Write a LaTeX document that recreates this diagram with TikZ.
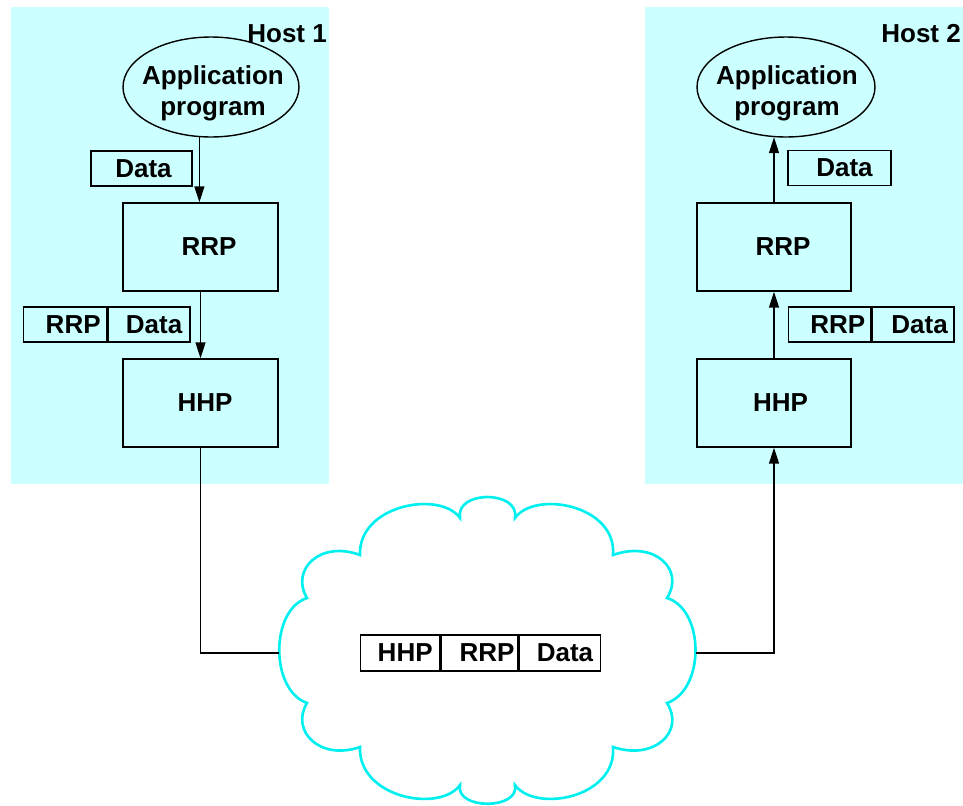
\documentclass[tikz,border=0pt]{standalone}
\usepackage{fontspec}
\setmainfont{Liberation Sans}
\usetikzlibrary{arrows.meta,shapes.geometric}
\definecolor{hostbg}{RGB}{204,255,255}
\definecolor{cloudc}{RGB}{0,240,240}
\begin{document}
\begin{tikzpicture}[x=0.02cm,y=-0.02cm,
  lbl/.style={font=\fontsize{14.8}{17.5}\selectfont\bfseries},
  box/.style={draw, line width=0.8pt, inner sep=0pt, lbl},
  arr/.style={line width=0.8pt, -{Triangle[length=0.32cm,width=0.2cm]}},
  wire/.style={line width=0.8pt}]
\useasboundingbox (0,0) rectangle (963,805);
% host backgrounds
\fill[hostbg] (11,7) rectangle (329,484);
\fill[hostbg] (645,7) rectangle (963,484);
% cloud
\draw[cloudc, line width=1.5pt] (360,555) .. controls (358,505) and (440,490) .. (460,518)
 .. controls (455,490) and (520,490) .. (515,518)
 .. controls (535,490) and (617,505) .. (613,555)
 .. controls (655,540) and (685,570) .. (667,598)
 .. controls (705,610) and (705,690) .. (667,703)
 .. controls (685,731) and (655,761) .. (613,747)
 .. controls (617,798) and (535,813) .. (515,785)
 .. controls (520,810) and (455,810) .. (460,785)
 .. controls (440,813) and (358,798) .. (360,747)
 .. controls (320,761) and (290,731) .. (307,703)
 .. controls (270,690) and (270,610) .. (307,598)
 .. controls (290,570) and (320,540) .. (360,555) -- cycle;
\coordinate (cloudW) at (279,653);
\coordinate (cloudE) at (695.5,653);
% Host 1
\node[draw, ellipse, line width=0.8pt, minimum width=3.52cm, minimum height=2cm, inner sep=0pt] (app1) at (211,87) {};
\node[lbl, align=center, inner sep=0pt] (app1t) at (213,93) {Application\\program};
\node[lbl, anchor=base west, inner sep=0pt] (host1) at (247,42) {Host 1};
\node[box, minimum width=2.02cm, minimum height=0.7cm] (data1) at (141.5,168.5) {\hspace{0.08cm}Data};
\node[box, minimum width=3.1cm, minimum height=1.76cm] (rrp1) at (200.5,247) {\hspace{0.34cm}RRP};
\node[box, minimum width=1.66cm, minimum height=0.7cm, anchor=west] (c1a) at (23,324.5) {\hspace{0.32cm}RRP};
\node[box, minimum width=1.64cm, minimum height=0.7cm, anchor=west] (c1b) at (c1a.east) {\hspace{0.2cm}Data};
\node[box, minimum width=3.1cm, minimum height=1.76cm] (hhp1) at (200.5,403) {\hspace{0.18cm}HHP};
% Host 2
\node[draw, ellipse, line width=0.8pt, minimum width=3.56cm, minimum height=2cm, inner sep=0pt] (app2) at (786,87) {};
\node[lbl, align=center, inner sep=0pt] (app2t) at (787,93) {Application\\program};
\node[lbl, anchor=base west, inner sep=0pt] (host2) at (881,42) {Host 2};
\node[box, minimum width=2.06cm, minimum height=0.7cm] (data2) at (839.5,168) {\hspace{0.2cm}Data};
\node[box, minimum width=3.08cm, minimum height=1.76cm] (rrp2) at (774,247) {\hspace{0.36cm}RRP};
\node[box, minimum width=1.64cm, minimum height=0.7cm, anchor=west] (c2a) at (788,324.5) {\hspace{0.32cm}RRP};
\node[box, minimum width=1.64cm, minimum height=0.7cm, anchor=west] (c2b) at (c2a.east) {\hspace{0.26cm}Data};
\node[box, minimum width=3.08cm, minimum height=1.76cm] (hhp2) at (774,403) {\hspace{0.26cm}HHP};
% packet in cloud
\node[box, minimum width=1.58cm, minimum height=0.72cm, anchor=west] (pk1) at (360,653) {\hspace{0.2cm}HHP};
\node[box, minimum width=1.54cm, minimum height=0.72cm, anchor=west] (pk2) at (pk1.east) {\hspace{0.3cm}RRP};
\node[box, minimum width=1.62cm, minimum height=0.72cm, anchor=west] (pk3) at (pk2.east) {\hspace{0.2cm}Data};
% connectors host 1
\draw[arr] (app1.257.5) -- (app1.257.5 |- rrp1.north);
\draw[arr] (rrp1.south) -- (hhp1.north);
\draw[wire] (hhp1.south) |- (cloudW);
% connectors host 2
\draw[arr] (cloudE) -| (hhp2.south);
\draw[arr] (hhp2.north) -- (rrp2.south);
\draw[arr] (rrp2.north) -- (rrp2.north |- app2.256.4);
\end{tikzpicture}
\end{document}
